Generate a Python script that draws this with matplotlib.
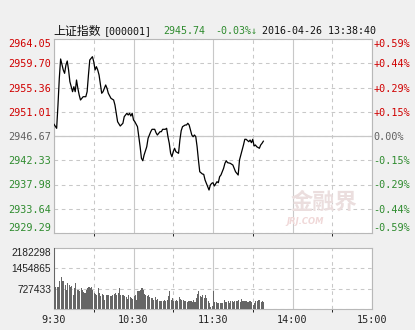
import matplotlib
matplotlib.use('Agg')
import matplotlib.pyplot as plt

# ---------------- data ----------------
price_ticks = [2929.29, 2933.64, 2937.98, 2942.33, 2946.67, 2951.01, 2955.36, 2959.70, 2964.05]
pct_labels = ['-0.59%', '-0.44%', '-0.29%', '-0.15%', '0.00%', '+0.15%', '+0.29%', '+0.44%', '+0.59%']
prev_close = 2946.67

vol_ticks = [0, 727433, 1454865, 2182298]
vol_labels = ['', '727433', '1454865', '2182298']

time_pos = [0, 60, 120, 180, 240]
time_labels = ['9:30', '10:30', '11:30', '14:00', '15:00']
half_hours = [30, 90, 150, 210]

minutes = [0, 2, 3, 4, 5, 7, 8, 9, 10, 11, 12, 14, 15, 16, 17, 18, 19, 20, 21, 22,
           24, 25, 26, 27, 29, 30, 31, 32, 33, 34, 36, 37, 39, 40, 41, 43, 45, 46, 47, 48,
           50, 52, 53, 55, 56, 57, 58, 59, 60, 61, 63, 64, 65, 66, 67, 68, 70, 71, 73, 74,
           76, 77, 78, 80, 81, 82, 84, 85, 86, 87, 88, 89, 90, 91, 92, 94, 95, 96, 97, 99,
           100, 101, 102, 104, 105, 106, 107, 108, 109, 110, 112, 113, 114, 116, 117, 118, 119, 120, 121, 123,
           124, 125, 126, 128, 129, 130, 131, 133, 135, 137, 138, 139, 140, 142, 143, 144, 145, 147, 148, 149,
           150, 151, 152, 153, 155, 156, 157, 158]
prices = [2948.77, 2948.05, 2952.22, 2957.01, 2960.47, 2958.50, 2957.90, 2959.39, 2960.11, 2958.50,
          2956.40, 2954.61, 2955.50, 2954.61, 2956.70, 2955.22, 2954.02, 2953.12, 2953.42, 2953.71,
          2953.71, 2954.61, 2957.60, 2960.29, 2960.88, 2959.98, 2958.50, 2959.09, 2958.50, 2957.60,
          2954.32, 2954.61, 2955.81, 2955.22, 2954.32, 2953.42,
          2953.12, 2952.22, 2950.74, 2949.23, 2948.46, 2948.95, 2950.13, 2950.74, 2950.43, 2950.74,
          2950.25, 2950.74, 2949.54, 2949.23, 2948.34, 2946.54, 2944.75, 2942.67, 2942.24, 2943.27,
          2944.75, 2946.26, 2947.44, 2947.87, 2947.87, 2947.26, 2946.85, 2947.44, 2947.44, 2947.87,
          2947.87, 2948.05, 2946.54,
          2945.36, 2943.57, 2942.96, 2943.86, 2944.47, 2943.86, 2943.57, 2945.95, 2947.62, 2948.34,
          2948.64, 2948.64, 2948.95, 2948.64, 2946.85, 2946.54, 2946.85, 2946.54, 2944.75, 2942.37,
          2940.27, 2939.86, 2939.80, 2938.79, 2937.59, 2936.99, 2937.89, 2938.19, 2938.30, 2937.71,
          2938.48, 2938.30, 2939.38, 2939.68, 2940.88,
          2941.78, 2942.24, 2941.89, 2941.78, 2941.47, 2940.27, 2939.99, 2939.68, 2942.37, 2944.16,
          2945.06, 2946.08, 2946.08, 2945.65, 2945.95, 2945.47, 2946.08, 2944.88, 2945.06, 2944.75,
          2944.47, 2945.06, 2945.36, 2945.74]

volumes = [2182298, 775000, 775000, 775000, 990000, 1145000, 1014000, 1014000, 870000, 692000,
           930000, 847000, 775000, 811000, 513000, 751000, 930000, 692000, 692000, 632000,
           751000, 692000, 596000, 572000, 692000, 751000, 775000, 751000, 775000, 692000,
           572000, 549000, 513000, 751000, 572000, 453000, 549000, 513000, 334000, 489000,
           489000, 489000, 453000, 453000, 489000, 537000, 572000, 513000, 572000, 751000,
           513000, 489000, 513000, 453000, 417000, 370000, 513000, 417000, 394000, 370000,
           453000, 513000, 334000, 632000, 632000, 692000, 751000, 692000, 537000, 513000,
           453000, 489000, 417000, 394000, 394000, 334000, 417000, 334000, 370000, 298000,
           274000, 298000, 274000, 334000, 298000, 334000, 453000, 632000, 334000, 394000,
           298000, 298000, 334000, 298000, 417000, 370000, 334000, 334000, 274000, 298000,
           250000, 298000, 274000, 298000, 250000, 334000, 250000, 394000, 537000, 632000,
           453000, 417000, 489000, 394000, 513000, 394000, 298000, 215000, 60000, 100000,
           656000, 250000, 250000, 215000, 215000, 215000, 215000, 215000, 334000, 250000,
           250000, 298000, 215000, 274000, 298000, 250000, 274000, 298000, 298000, 334000,
           250000, 358000, 298000, 274000, 274000, 298000, 250000, 298000, 274000, 250000,
           155000, 215000, 274000, 298000, 334000, 334000, 250000, 298000, 250000]

header_name = '上证指数'
header_code = '[000001]'
header_price = '2945.74'
header_change = '-0.03%↓'
header_time = '2016-04-26 13:38:40'

# ---------------- style ----------------
RED = '#d00000'
GREEN = '#2e8b2e'
MID = '#606060'
GRID = '#c8c8c8'
FRAME = '#b8b8b8'
BG = '#f0f0f0'
MONO = ['DejaVu Sans Mono', 'DejaVu Sans']

W, H = 415, 330
fig = plt.figure(figsize=(W / 100, H / 100), dpi=100, facecolor=BG)
ax = fig.add_axes([54 / W, 1 - 233 / H, 318 / W, 194 / H])
axv = fig.add_axes([54 / W, 1 - 309 / H, 318 / W, 61 / H])

dash = (0, (3.5, 3.5))
for a in (ax, axv):
    a.set_facecolor('white')
    a.set_xlim(0, 240)
    for s in a.spines.values():
        s.set_color(FRAME)
        s.set_linewidth(0.8)
    a.tick_params(length=0)
    a.set_xticks(time_pos)
    a.set_xticks(half_hours, minor=True)
    a.grid(True, axis='x', which='major', color=GRID, linewidth=0.8, linestyle='-')
    a.grid(True, axis='x', which='minor', color=GRID, linewidth=0.75, linestyle=dash)
    a.set_axisbelow(True)

# ----- price panel -----
ax.set_ylim(price_ticks[0], price_ticks[-1])
ax.set_yticks(price_ticks)
ax.grid(True, axis='y', color=GRID, linewidth=0.75, linestyle=dash)
ax.axhline(prev_close, color=GRID, linewidth=0.9, zorder=1)
ax.plot(minutes, prices, color='black', linewidth=0.9, zorder=3)
ax.set_xticklabels([])

ax.set_yticklabels([f'{v:.2f}' for v in price_ticks], family=MONO, fontsize=7.3)
ax.tick_params(axis='y', pad=2)
n = len(price_ticks)
for i, lab in enumerate(ax.get_yticklabels()):
    lab.set_color(GREEN if i < n // 2 else (MID if i == n // 2 else RED))
    if i == 0:
        lab.set_va('bottom')
    elif i == n - 1:
        lab.set_va('top')

ax2 = ax.twinx()
ax2.set_ylim(price_ticks[0], price_ticks[-1])
ax2.set_yticks(price_ticks)
ax2.set_yticklabels(pct_labels, family=MONO, fontsize=7.3)
ax2.tick_params(length=0, pad=1)
for s in ax2.spines.values():
    s.set_visible(False)
for i, lab in enumerate(ax2.get_yticklabels()):
    lab.set_color(GREEN if i < n // 2 else (MID if i == n // 2 else RED))
    if i == 0:
        lab.set_va('bottom')
    elif i == n - 1:
        lab.set_va('top')

# watermark
ax.text(0.85, 0.16, '金融界', transform=ax.transAxes, ha='center', va='center',
        fontsize=16, fontweight='bold', color='#ebdede', family=['Noto Sans CJK SC'], zorder=2)
ax.text(0.79, 0.057, 'JRJ.COM', transform=ax.transAxes, ha='center', va='center',
        fontsize=6, fontweight='bold', fontstyle='italic', color='#f0d8d8', zorder=2)

# ----- volume panel -----
axv.bar(range(len(volumes)), volumes, width=0.8, align='edge', color='#666666', zorder=3)
axv.set_ylim(0, vol_ticks[-1])
axv.set_yticks(vol_ticks)
axv.set_yticklabels(vol_labels, family=['Liberation Sans'], fontsize=7.3, color='#222222')
axv.grid(True, axis='y', color=GRID, linewidth=0.75, linestyle=dash)
axv.set_xticklabels(time_labels, family=MONO, fontsize=7.3, color='#222222')
axv.tick_params(axis='x', pad=4)
axv.tick_params(axis='y', pad=2)
vl = axv.get_yticklabels()
vl[-1].set_va('top')

# ----- header -----
yh = 1 - 31 / H
fig.text(53 / W, yh, header_name, family=['Noto Sans CJK SC'], fontsize=8.6, va='center', ha='left', color='#111111')
fig.text(104 / W, yh, header_code, family=MONO, fontsize=7.2, va='center', ha='left', color='#111111')
fig.text(163 / W, yh, header_price, family=MONO, fontsize=7.2, va='center', ha='left', color=GREEN)
fig.text(215 / W, yh, header_change, family=MONO, fontsize=7.2, va='center', ha='left', color=GREEN)
fig.text(262 / W, yh, header_time, family=MONO, fontsize=7.2, va='center', ha='left', color='#111111')

fig.savefig('out.png', dpi=100, facecolor=BG)
